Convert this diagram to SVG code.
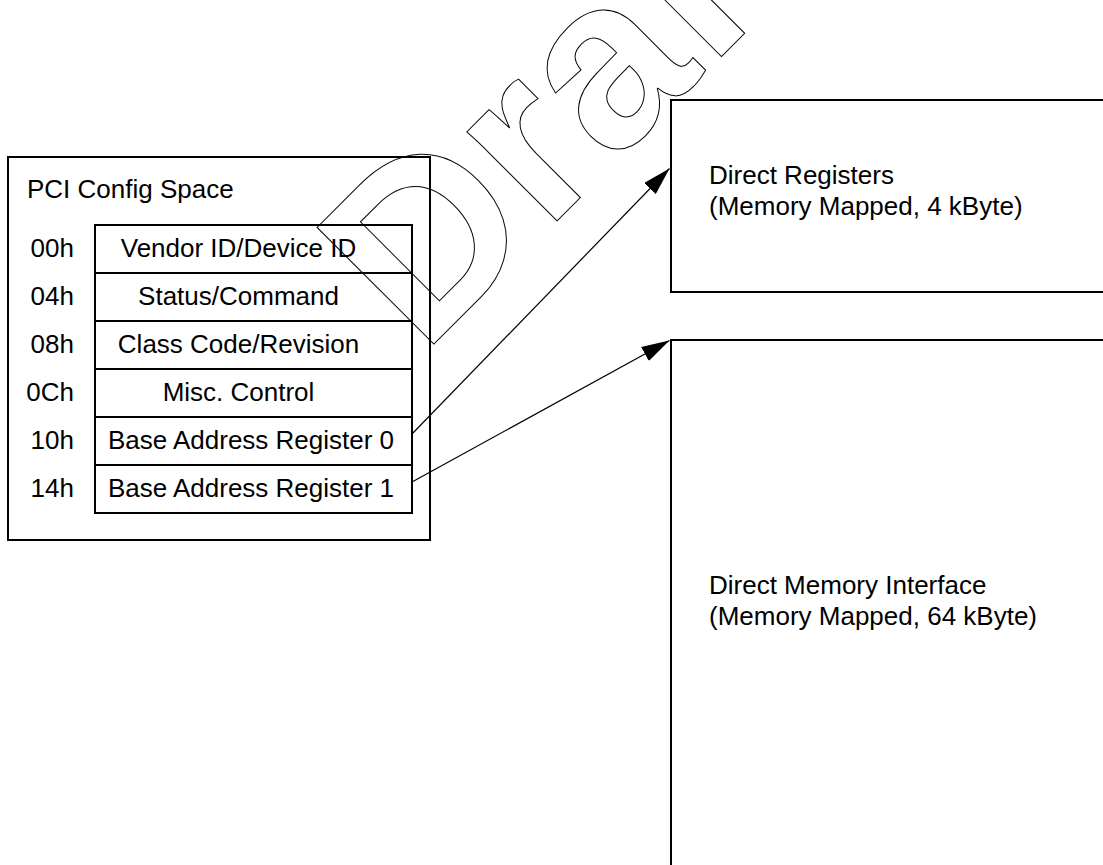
<svg xmlns="http://www.w3.org/2000/svg" width="1103" height="865" viewBox="0 0 1103 865">
  <style>
    .box{fill:none;stroke:#000;stroke-width:2}
    .t{font-family:"Liberation Sans",Arial,Helvetica,sans-serif;font-size:26px;fill:#000}
    .mid{text-anchor:middle}
    .off{text-anchor:end}
    .wire{stroke:#000;stroke-width:1.2;fill:none}
    .wm{font-family:"Liberation Sans",Arial,Helvetica,sans-serif;font-weight:bold;font-size:240px;fill:none;stroke:#000;stroke-width:1}
  </style>
  <defs>
    <marker id="head" markerUnits="userSpaceOnUse" markerWidth="28" markerHeight="16" refX="28" refY="8" orient="auto">
      <path d="M0,0 L28,8 L0,16 Z" fill="#000"/>
    </marker>
  </defs>
  <rect width="1103" height="865" fill="#fff"/>

  <!-- PCI configuration space with its register table -->
  <g id="pci-config">
    <rect class="box" x="8" y="157" width="422" height="383"/>
    <text class="t" x="27" y="198">PCI Config Space</text>
    <g id="reg-00h">
      <rect class="box" x="95" y="225" width="317" height="48"/>
      <text class="t off" x="74" y="257">00h</text>
      <text class="t mid" x="238.5" y="257">Vendor ID/Device ID</text>
    </g>
    <g id="reg-04h">
      <rect class="box" x="95" y="273" width="317" height="48"/>
      <text class="t off" x="74" y="305">04h</text>
      <text class="t mid" x="238.5" y="305">Status/Command</text>
    </g>
    <g id="reg-08h">
      <rect class="box" x="95" y="321" width="317" height="48"/>
      <text class="t off" x="74" y="353">08h</text>
      <text class="t mid" x="238.5" y="353">Class Code/Revision</text>
    </g>
    <g id="reg-0Ch">
      <rect class="box" x="95" y="369" width="317" height="48"/>
      <text class="t off" x="74" y="401">0Ch</text>
      <text class="t mid" x="238.5" y="401">Misc. Control</text>
    </g>
    <g id="reg-10h">
      <rect class="box" x="95" y="417" width="317" height="48"/>
      <text class="t off" x="74" y="449">10h</text>
      <text class="t mid" x="251" y="449">Base Address Register 0</text>
    </g>
    <g id="reg-14h">
      <rect class="box" x="95" y="465" width="317" height="48"/>
      <text class="t off" x="74" y="497">14h</text>
      <text class="t mid" x="251" y="497">Base Address Register 1</text>
    </g>
  </g>

  <!-- memory-mapped regions (open to the right) -->
  <g id="direct-registers">
    <rect class="box" x="671" y="100" width="450" height="192"/>
    <text class="t" x="709" y="184">Direct Registers</text>
    <text class="t" x="709" y="215">(Memory Mapped, 4 kByte)</text>
  </g>
  <g id="direct-memory">
    <rect class="box" x="671" y="340" width="450" height="560"/>
    <text class="t" x="709" y="594">Direct Memory Interface</text>
    <text class="t" x="709" y="625">(Memory Mapped, 64 kByte)</text>
  </g>

  <!-- BAR mappings -->
  <g id="connectors">
    <line class="wire" x1="412" y1="434" x2="669.5" y2="168.5" marker-end="url(#head)"/>
    <line class="wire" x1="412" y1="482" x2="669.5" y2="340.5" marker-end="url(#head)"/>
  </g>

  <!-- outlined watermark -->
  <text class="wm" transform="translate(422.6,355.4) rotate(-45)">Draft</text>
</svg>
